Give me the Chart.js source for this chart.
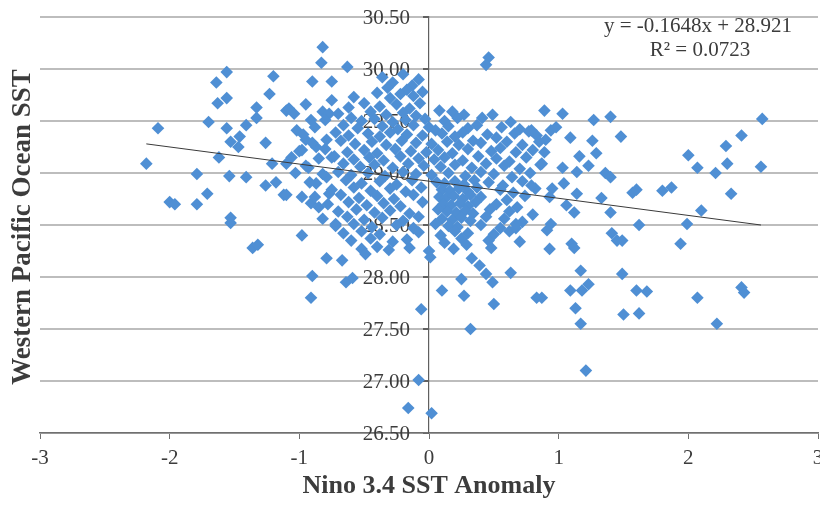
<!DOCTYPE html>
<html>
<head>
<meta charset="utf-8">
<script src="https://cdn.jsdelivr.net/npm/chart.js@4.4.0/dist/chart.umd.min.js"></script>
<style>
  html, body { margin: 0; padding: 0; background: #fff; }
  #wrap { width: 820px; height: 509px; }
</style>
</head>
<body>
<div id="wrap"><canvas id="grafico"></canvas></div>
<script>
// Nino 3.4 SST anomaly (x) vs Western Pacific Ocean SST (y)
const pontos = [
  // left, sparse
  [-2.09, 29.43], [-2.18, 29.09], [-2.00, 28.72], [-1.96, 28.70], [-1.79, 28.99], [-1.71, 28.80],
  [-1.79, 28.70], [-1.53, 28.57], [-1.53, 28.52], [-1.70, 29.49], [-1.64, 29.87], [-1.56, 29.97],
  [-1.63, 29.67], [-1.56, 29.72], [-1.56, 29.43], [-1.46, 29.35], [-1.53, 29.30], [-1.41, 29.46],
  [-1.33, 29.63], [-1.33, 29.53], [-1.26, 29.29], [-1.62, 29.15], [-1.54, 28.97], [-1.41, 28.96],
  [-1.26, 28.88], [-1.18, 28.91], [-1.12, 28.79], [-1.23, 29.76], [-1.20, 29.93], [-1.36, 28.28],
  [-1.32, 28.31], [-1.47, 29.25], [-1.10, 29.60], [-1.04, 29.57],
  // around -1 .. -0.6
  [-1.08, 29.62], [-0.91, 29.51], [-0.82, 29.59], [-0.77, 29.57], [-0.90, 29.88], [-0.75, 29.88],
  [-0.82, 30.21], [-0.83, 30.06], [-0.63, 30.02], [-1.02, 29.41], [-0.95, 29.32], [-0.87, 29.25],
  [-0.79, 29.32], [-0.75, 29.15], [-0.98, 29.22], [-1.06, 29.15], [-1.10, 29.09], [-1.21, 29.09],
  [-1.03, 29.00], [-0.93, 29.05], [-0.87, 28.90], [-0.79, 28.96], [-0.77, 28.80], [-0.98, 28.77],
  [-0.91, 28.71], [-0.85, 28.67], [-1.10, 28.79], [-0.72, 28.51], [-0.75, 29.70],
  // dense cloud
  [-0.36, 29.92], [-0.28, 29.87], [-0.20, 29.95], [-0.13, 29.84], [-0.08, 29.90], [-0.17, 29.80], [-0.32, 29.82],
  [-0.58, 29.73], [-0.40, 29.77], [-0.30, 29.72], [-0.22, 29.76], [-0.12, 29.74], [-0.05, 29.78],
  [-0.95, 29.66], [-0.62, 29.63], [-0.50, 29.67], [-0.38, 29.64], [-0.25, 29.66], [-0.15, 29.62], [-0.07, 29.67],
  [-0.70, 29.57], [-0.45, 29.59], [-0.33, 29.56], [-0.20, 29.58], [-0.10, 29.55], [0.08, 29.60], [0.18, 29.59], [0.27, 29.56],
  [-0.80, 29.51], [-0.60, 29.53], [-0.52, 29.50], [-0.42, 29.52], [-0.28, 29.49], [-0.18, 29.51], [-0.03, 29.52],
  [0.12, 29.50], [0.22, 29.53], [0.41, 29.53], [0.49, 29.56], [0.63, 29.49],
  [-0.88, 29.44], [-0.66, 29.46], [-0.55, 29.43], [-0.36, 29.45], [-0.24, 29.42], [-0.12, 29.46], [0.00, 29.44],
  [0.05, 29.41], [0.15, 29.45], [0.30, 29.43], [0.37, 29.46], [0.56, 29.44], [0.70, 29.42], [0.77, 29.40],
  [-0.97, 29.37], [-0.72, 29.39], [-0.62, 29.36], [-0.47, 29.38], [-0.38, 29.35], [-0.30, 29.39], [-0.17, 29.37],
  [-0.05, 29.36], [0.10, 29.38], [0.20, 29.35], [0.26, 29.39], [0.45, 29.37], [0.52, 29.34], [0.66, 29.38], [0.83, 29.36],
  [-0.90, 29.29], [-0.68, 29.31], [-0.57, 29.28], [-0.44, 29.30], [-0.33, 29.27], [-0.21, 29.31], [-0.10, 29.29],
  [0.02, 29.28], [0.14, 29.30], [0.23, 29.27], [0.34, 29.31], [0.40, 29.29], [0.60, 29.30], [0.72, 29.27],
  [-1.00, 29.21], [-0.80, 29.23], [-0.63, 29.20], [-0.50, 29.22], [-0.40, 29.19], [-0.26, 29.23], [-0.14, 29.21],
  [-0.02, 29.20], [0.07, 29.22], [0.18, 29.19], [0.30, 29.23], [0.48, 29.21], [0.55, 29.24], [0.67, 29.20], [0.80, 29.22],
  [-0.85, 29.14], [-0.73, 29.16], [-0.58, 29.13], [-0.46, 29.15], [-0.35, 29.12], [-0.22, 29.16], [-0.08, 29.14],
  [0.04, 29.13], [0.12, 29.15], [0.26, 29.12], [0.38, 29.16], [0.52, 29.14], [0.62, 29.11], [0.75, 29.15],
  [-0.95, 29.07], [-0.66, 29.09], [-0.53, 29.06], [-0.42, 29.08], [-0.28, 29.05], [-0.16, 29.09], [-0.04, 29.07],
  [0.09, 29.06], [0.20, 29.08], [0.33, 29.05], [0.44, 29.09], [0.58, 29.07], [0.70, 29.04], [0.86, 29.08],
  [-0.82, 28.99], [-0.70, 29.01], [-0.60, 28.98], [-0.47, 29.00], [-0.34, 28.97], [-0.20, 29.01], [-0.10, 28.99],
  [0.02, 28.98], [0.15, 29.00], [0.28, 28.97], [0.40, 29.01], [0.50, 28.99], [0.64, 28.96], [0.78, 29.00],
  [-0.92, 28.91], [-0.64, 28.93], [-0.52, 28.90], [-0.38, 28.92], [-0.25, 28.89], [-0.13, 28.93], [0.06, 28.91],
  [0.12, 28.90], [0.20, 28.92], [0.27, 28.89], [0.35, 28.93], [0.46, 28.91], [0.57, 28.88], [0.72, 28.92],
  [-0.75, 28.84], [-0.58, 28.86], [-0.45, 28.83], [-0.30, 28.85], [-0.18, 28.82], [-0.06, 28.86], [0.10, 28.84],
  [0.16, 28.83], [0.23, 28.85], [0.30, 28.82], [0.37, 28.86], [0.55, 28.84], [0.65, 28.81], [0.82, 28.85],
  [-0.88, 28.77], [-0.68, 28.79], [-0.54, 28.76], [-0.40, 28.78], [-0.27, 28.75], [-0.12, 28.79], [0.08, 28.77],
  [0.13, 28.76], [0.19, 28.78], [0.26, 28.75], [0.32, 28.79], [0.40, 28.77], [0.60, 28.74], [0.74, 28.78],
  [-0.78, 28.70], [-0.62, 28.72], [-0.48, 28.69], [-0.35, 28.71], [-0.22, 28.68], [-0.05, 28.72], [0.11, 28.70],
  [0.17, 28.69], [0.24, 28.71], [0.30, 28.68], [0.36, 28.72], [0.52, 28.70], [0.68, 28.67],
  [-0.70, 28.63], [-0.56, 28.65], [-0.42, 28.62], [-0.30, 28.64], [-0.15, 28.61], [0.07, 28.65], [0.14, 28.63],
  [0.21, 28.62], [0.28, 28.64], [0.34, 28.61], [0.47, 28.65], [0.62, 28.63], [0.80, 28.60],
  [-0.82, 28.56], [-0.63, 28.58], [-0.50, 28.55], [-0.36, 28.57], [-0.20, 28.54], [-0.08, 28.58], [0.10, 28.56],
  [0.18, 28.55], [0.25, 28.57], [0.32, 28.54], [0.44, 28.58], [0.58, 28.56], [0.72, 28.53],
  [-0.72, 28.49], [-0.58, 28.51], [-0.44, 28.48], [-0.25, 28.50], [-0.12, 28.47], [0.05, 28.51], [0.15, 28.49],
  [0.22, 28.48], [0.40, 28.50], [0.55, 28.47], [0.67, 28.51],
  [-0.66, 28.42], [-0.52, 28.44], [-0.38, 28.41], [-0.08, 28.43], [0.09, 28.40], [0.20, 28.44], [0.30, 28.42],
  [0.50, 28.41], [0.62, 28.44],
  [-0.60, 28.35], [-0.45, 28.37], [-0.28, 28.34], [-0.17, 28.36], [0.12, 28.33], [0.25, 28.37], [0.46, 28.35], [0.70, 28.34],
  [-0.52, 28.27], [-0.40, 28.29], [-0.31, 28.26], [-0.15, 28.28], [0.00, 28.25], [0.19, 28.27], [0.29, 28.31], [0.48, 28.28],
  // right, sparse
  [0.46, 30.11], [0.44, 30.04], [0.89, 29.60], [1.03, 29.57], [1.27, 29.51], [1.40, 29.54], [1.48, 29.35],
  [2.57, 29.52], [2.41, 29.36], [2.29, 29.26], [2.00, 29.17], [2.07, 29.05], [2.21, 29.00], [2.30, 29.09],
  [2.56, 29.06], [2.33, 28.80], [2.10, 28.64], [1.99, 28.51], [1.80, 28.83], [1.87, 28.86], [1.57, 28.81],
  [1.60, 28.84], [1.62, 28.50], [1.94, 28.32], [1.33, 28.76], [1.40, 28.62], [1.36, 29.00], [1.40, 28.96],
  [1.26, 29.31], [1.16, 29.16], [1.29, 29.19], [1.23, 29.07], [1.09, 29.34], [1.03, 29.05], [1.14, 29.01],
  [1.04, 28.90], [1.14, 28.80], [1.06, 28.69], [1.12, 28.62], [0.94, 29.41], [0.98, 29.44], [0.90, 29.32],
  [0.89, 29.20], [0.87, 29.09], [0.95, 28.85], [0.93, 28.77], [0.94, 28.51], [0.91, 28.45], [1.10, 28.32],
  [1.41, 28.42], [1.45, 28.35], [1.49, 28.35], [0.93, 28.27], [1.12, 28.28], [1.17, 28.06], [1.09, 27.87],
  [1.18, 27.87], [1.23, 27.93], [0.87, 27.80], [1.49, 28.03], [1.60, 27.87], [1.68, 27.86], [1.13, 27.70],
  [1.17, 27.55], [1.50, 27.64], [1.62, 27.65], [2.07, 27.80], [2.22, 27.55], [2.41, 27.90], [2.43, 27.85],
  [1.21, 27.10], [0.79, 29.41], [0.79, 28.88], [0.85, 29.30],
  // low values
  [-0.08, 27.01], [-0.16, 26.74], [0.02, 26.69], [-0.06, 27.69], [0.32, 27.50], [0.10, 27.87], [0.27, 27.82],
  [0.25, 27.98], [0.50, 27.74], [0.63, 28.04], [0.83, 27.80], [0.33, 28.18], [0.39, 28.11], [0.44, 28.03],
  [0.49, 27.95], [0.01, 28.19], [-0.67, 28.16], [-0.64, 27.95], [-0.59, 27.99], [-0.79, 28.18], [-0.90, 28.01],
  [-0.91, 27.80], [-0.98, 28.40], [-0.49, 28.22], [0.67, 28.47]
];

// linear trend drawn by Excel (ends)
const linhaTendencia = [[-2.18, 29.28], [2.56, 28.50]];
const equacao = ['y = -0.1648x + 28.921', 'R² = 0.0723'];
const tituloX = 'Nino 3.4 SST Anomaly';
const tituloY = 'Western Pacific Ocean SST';

const corTexto = '#3c3c3c';
const fonte = '"Liberation Serif", "Times New Roman", serif';

// no extra room for tick labels, the layout padding decides the plot area
function semMargem(scale) {
  scale.paddingLeft = 0;
  scale.paddingRight = 0;
  scale.paddingTop = 0;
  scale.paddingBottom = 0;
}

// plot area runs to 2px from the right edge, like the original ("3" gets cut)
const ajusteArea = {
  id: 'ajusteArea',
  afterLayout(chart) {
    const alvo = chart.width - 2;
    const xs = chart.scales.x;
    chart.chartArea.right = alvo;
    chart.chartArea.width = alvo - chart.chartArea.left;
    xs.right = alvo;
    xs.width = alvo - xs.left;
    xs.configure();
  }
};

const textoExtra = {
  id: 'textoExtra',
  // y tick labels left of the axis that crosses at x = 0, under the points
  beforeDatasetsDraw(chart) {
    const { ctx } = chart;
    const ys = chart.scales.y;
    const x0 = chart.scales.x.getPixelForValue(0);
    ctx.save();
    ctx.fillStyle = corTexto;
    ctx.font = '21px ' + fonte;
    ctx.textAlign = 'right';
    ctx.textBaseline = 'middle';
    ys.ticks.forEach(t => {
      ctx.fillText(t.value.toFixed(2), x0 - 19, ys.getPixelForValue(t.value) + 1);
    });
    ctx.restore();
  },
  afterDraw(chart) {
    const { ctx, chartArea } = chart;
    ctx.save();
    ctx.fillStyle = corTexto;
    ctx.textAlign = 'center';
    ctx.textBaseline = 'middle';
    // y axis title, on the far left
    ctx.save();
    ctx.font = 'bold 27px ' + fonte;
    ctx.translate(23, (chartArea.top + chartArea.bottom) / 2 + 2);
    ctx.rotate(-Math.PI / 2);
    ctx.fillText(tituloY, 0, 0);
    ctx.restore();
    // trendline label
    ctx.font = '21px ' + fonte;
    ctx.fillText(equacao[0], chartArea.right - 120, chartArea.top + 9);
    ctx.fillText(equacao[1], chartArea.right - 118, chartArea.top + 33);
    ctx.restore();
  }
};

const ctx = document.getElementById('grafico');
new Chart(ctx, {
  type: 'scatter',
  data: {
    datasets: [
      {
        label: 'Trend',
        data: linhaTendencia.map(p => ({ x: p[0], y: p[1] })),
        showLine: true,
        borderColor: '#3a3a3a',
        borderWidth: 1,
        pointRadius: 0,
        order: 0
      },
      {
        label: 'SST',
        data: pontos.map(p => ({ x: p[0], y: p[1] })),
        pointStyle: 'rectRot',
        pointRadius: 6.3,
        backgroundColor: '#4f8fd4',
        borderColor: '#4f8fd4',
        borderWidth: 0,
        order: 1
      }
    ]
  },
  options: {
    responsive: true,
    maintainAspectRatio: false,
    animation: false,
    layout: { padding: { left: 40, right: 2, top: 17, bottom: 3.6 } },
    plugins: {
      legend: { display: false },
      tooltip: { enabled: false }
    },
    scales: {
      x: {
        type: 'linear',
        position: 'bottom',
        min: -3,
        max: 3,
        ticks: {
          stepSize: 1,
          padding: 7,
          color: corTexto,
          font: { family: fonte, size: 21 }
        },
        grid: {
          drawOnChartArea: false,
          drawTicks: true,
          tickLength: 6,
          tickColor: '#707070'
        },
        border: { color: '#707070', width: 1.5 },
        title: {
          display: true,
          text: tituloX,
          color: corTexto,
          font: { family: fonte, size: 26, weight: 'bold' },
          padding: { top: -8, bottom: 4 }
        },
        afterFit: semMargem
      },
      y: {
        type: 'linear',
        position: { x: 0 },
        min: 26.5,
        max: 30.5,
        ticks: {
          stepSize: 0.5,
          display: false
        },
        grid: {
          color: '#bdbdbd',
          lineWidth: 2,
          tickLength: 5,
          tickColor: '#606060'
        },
        border: { color: '#606060', width: 1.2 },
        afterFit: semMargem
      }
    }
  },
  plugins: [ajusteArea, textoExtra]
});
</script>
</body>
</html>
